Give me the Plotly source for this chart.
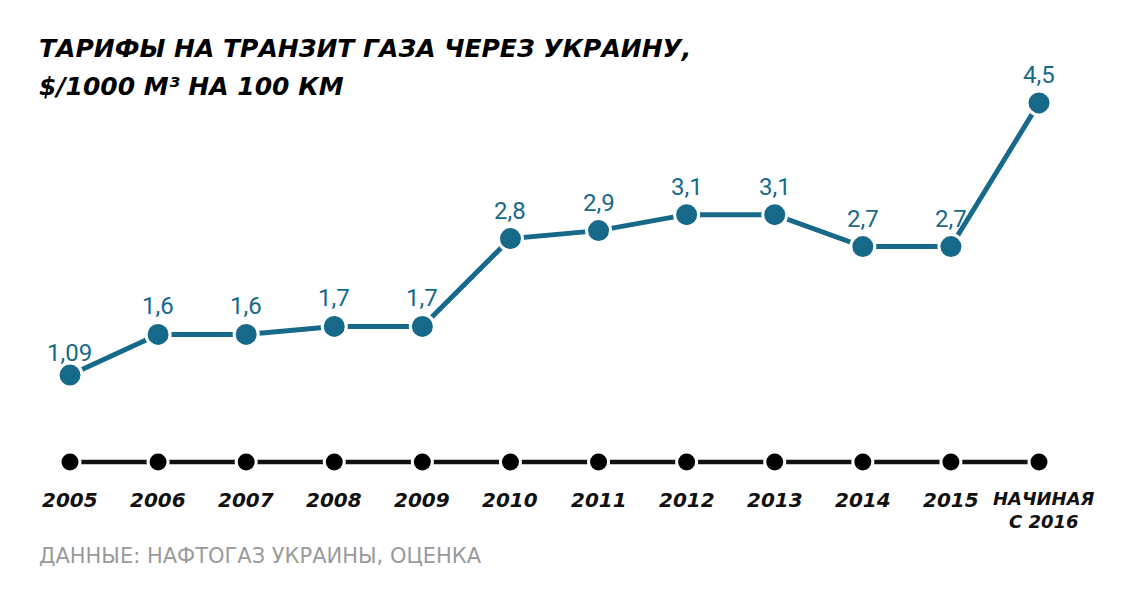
import plotly.graph_objects as go

years = ["2005", "2006", "2007", "2008", "2009", "2010", "2011", "2012", "2013", "2014", "2015", "НАЧИНАЯ<br>С 2016"]
tariffs = [1.09, 1.6, 1.6, 1.7, 1.7, 2.8, 2.9, 3.1, 3.1, 2.7, 2.7, 4.5]
value_labels = ["1,09", "1,6", "1,6", "1,7", "1,7", "2,8", "2,9", "3,1", "3,1", "2,7", "2,7", "4,5"]

TEAL = "#17698a"
x = list(range(len(years)))

fig = go.Figure()
# timeline
fig.add_trace(go.Scatter(
    x=x, y=[0] * len(x), mode="lines+markers",
    line=dict(color="#111111", width=4.5),
    marker=dict(size=20, color="#000000", line=dict(color="white", width=3)),
    hoverinfo="skip", showlegend=False,
))
# tariffs
fig.add_trace(go.Scatter(
    x=x, y=tariffs, mode="lines+markers",
    line=dict(color=TEAL, width=5),
    marker=dict(size=24, color=TEAL, line=dict(color="white", width=3)),
    showlegend=False,
))

annotations = []
for xi, v, t in zip(x, tariffs, value_labels):
    annotations.append(dict(
        x=xi, y=v, text=t, showarrow=False, yshift=28 if xi > 0 else 22,
        font=dict(family="Roboto", size=24, color=TEAL),
    ))
last = len(years) - 1
for xi, lab in zip(x, years):
    annotations.append(dict(
        x=xi, y=-0.30, text=lab, showarrow=False, yanchor="top",
        xshift=5 if xi == last else 0,
        font=dict(family="DejaVu Sans", size=18 if xi == last else 20,
                  color="#111111", weight="bold", style="italic"),
    ))

title_font = dict(family="DejaVu Sans", size=25, color="#000000", weight="bold", style="italic")
annotations += [
    dict(xref="paper", yref="paper", x=0.0155, y=1.0319, xanchor="left", yanchor="middle",
         text="ТАРИФЫ НА ТРАНЗИТ ГАЗА ЧЕРЕЗ УКРАИНУ,", showarrow=False, font=title_font),
    dict(xref="paper", yref="paper", x=0.0155, y=0.9476, xanchor="left", yanchor="middle",
         text="$/1000 М³ НА 100 КМ", showarrow=False, font=title_font),
    dict(xref="paper", yref="paper", x=0.0155, y=-0.123, xanchor="left", yanchor="middle",
         text="ДАННЫЕ: НАФТОГАЗ УКРАИНЫ, ОЦЕНКА", showarrow=False,
         font=dict(family="DejaVu Sans", size=21, color="#9a9a9a")),
]

fig.update_layout(
    width=1136, height=594,
    margin=dict(l=12, r=28, t=55, b=100),
    paper_bgcolor="white", plot_bgcolor="white",
    xaxis=dict(range=[-0.5675, 11.874], visible=False, fixedrange=True),
    yaxis=dict(range=[-0.5, 5.0], visible=False, fixedrange=True),
    annotations=annotations,
)

fig.write_html("out.html")
